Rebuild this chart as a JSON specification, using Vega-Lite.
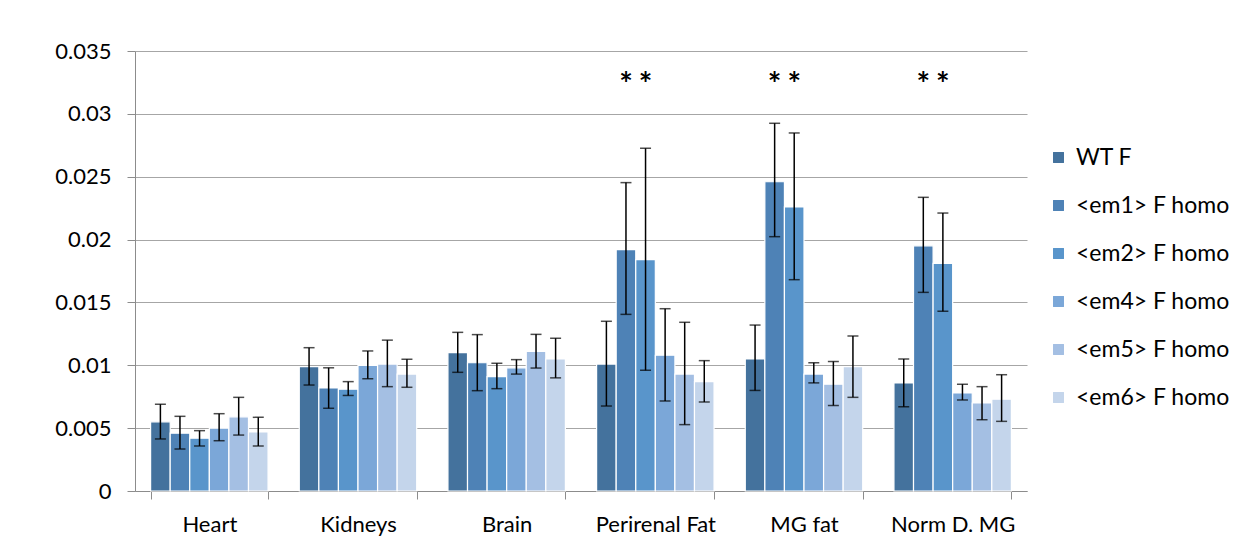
{
  "$schema": "https://vega.github.io/schema/vega-lite/v6.json",
  "autosize": {"type": "none"},
  "width": 892,
  "height": 440,
  "padding": {"left": 135, "top": 51, "right": 227, "bottom": 48},
  "background": "white",
  "config": {
    "font": "Lato",
    "view": {"stroke": null},
    "axis": {"labelFont": "Lato", "labelColor": "black", "labelFontSize": 22, "domainColor": "#8c8c8c", "tickColor": "#8c8c8c", "gridColor": "#a6a6a6"}
  },
  "datasets": {
    "bars": [
      {"organ": "Heart", "group": "WT F", "mean": 0.0055, "lo": 0.00414, "hi": 0.0069},
      {"organ": "Heart", "group": "<em1> F homo", "mean": 0.0046, "lo": 0.00334, "hi": 0.00594},
      {"organ": "Heart", "group": "<em2> F homo", "mean": 0.0042, "lo": 0.00358, "hi": 0.0048},
      {"organ": "Heart", "group": "<em4> F homo", "mean": 0.0050, "lo": 0.0040, "hi": 0.00615},
      {"organ": "Heart", "group": "<em5> F homo", "mean": 0.0059, "lo": 0.00445, "hi": 0.00745},
      {"organ": "Heart", "group": "<em6> F homo", "mean": 0.0047, "lo": 0.00358, "hi": 0.00586},
      {"organ": "Kidneys", "group": "WT F", "mean": 0.0099, "lo": 0.00843, "hi": 0.0114},
      {"organ": "Kidneys", "group": "<em1> F homo", "mean": 0.0082, "lo": 0.00658, "hi": 0.0098},
      {"organ": "Kidneys", "group": "<em2> F homo", "mean": 0.0081, "lo": 0.0076, "hi": 0.0087},
      {"organ": "Kidneys", "group": "<em4> F homo", "mean": 0.0100, "lo": 0.00893, "hi": 0.01114},
      {"organ": "Kidneys", "group": "<em5> F homo", "mean": 0.0101, "lo": 0.0083, "hi": 0.0120},
      {"organ": "Kidneys", "group": "<em6> F homo", "mean": 0.0093, "lo": 0.00825, "hi": 0.01048},
      {"organ": "Brain", "group": "WT F", "mean": 0.0110, "lo": 0.00944, "hi": 0.01262},
      {"organ": "Brain", "group": "<em1> F homo", "mean": 0.0102, "lo": 0.00798, "hi": 0.01244},
      {"organ": "Brain", "group": "<em2> F homo", "mean": 0.0091, "lo": 0.00814, "hi": 0.01016},
      {"organ": "Brain", "group": "<em4> F homo", "mean": 0.0098, "lo": 0.0093, "hi": 0.01045},
      {"organ": "Brain", "group": "<em5> F homo", "mean": 0.0111, "lo": 0.00978, "hi": 0.01246},
      {"organ": "Brain", "group": "<em6> F homo", "mean": 0.0105, "lo": 0.0090, "hi": 0.01215},
      {"organ": "Perirenal Fat", "group": "WT F", "mean": 0.0101, "lo": 0.00676, "hi": 0.0135},
      {"organ": "Perirenal Fat", "group": "<em1> F homo", "mean": 0.0192, "lo": 0.01405, "hi": 0.02453},
      {"organ": "Perirenal Fat", "group": "<em2> F homo", "mean": 0.0184, "lo": 0.0096, "hi": 0.02726},
      {"organ": "Perirenal Fat", "group": "<em4> F homo", "mean": 0.0108, "lo": 0.00716, "hi": 0.0145},
      {"organ": "Perirenal Fat", "group": "<em5> F homo", "mean": 0.0093, "lo": 0.00528, "hi": 0.01342},
      {"organ": "Perirenal Fat", "group": "<em6> F homo", "mean": 0.0087, "lo": 0.00708, "hi": 0.01037},
      {"organ": "MG fat", "group": "WT F", "mean": 0.0105, "lo": 0.0080, "hi": 0.0132},
      {"organ": "MG fat", "group": "<em1> F homo", "mean": 0.0246, "lo": 0.02023, "hi": 0.02925},
      {"organ": "MG fat", "group": "<em2> F homo", "mean": 0.0226, "lo": 0.01681, "hi": 0.02848},
      {"organ": "MG fat", "group": "<em4> F homo", "mean": 0.0093, "lo": 0.0086, "hi": 0.0102},
      {"organ": "MG fat", "group": "<em5> F homo", "mean": 0.0085, "lo": 0.0068, "hi": 0.0103},
      {"organ": "MG fat", "group": "<em6> F homo", "mean": 0.0099, "lo": 0.00745, "hi": 0.01233},
      {"organ": "Norm D. MG", "group": "WT F", "mean": 0.0086, "lo": 0.0067, "hi": 0.0105},
      {"organ": "Norm D. MG", "group": "<em1> F homo", "mean": 0.0195, "lo": 0.0158, "hi": 0.02336},
      {"organ": "Norm D. MG", "group": "<em2> F homo", "mean": 0.0181, "lo": 0.0143, "hi": 0.02211},
      {"organ": "Norm D. MG", "group": "<em4> F homo", "mean": 0.0078, "lo": 0.00724, "hi": 0.00849},
      {"organ": "Norm D. MG", "group": "<em5> F homo", "mean": 0.0070, "lo": 0.00567, "hi": 0.0083},
      {"organ": "Norm D. MG", "group": "<em6> F homo", "mean": 0.0073, "lo": 0.00554, "hi": 0.00925}
    ],
    "stars": [
      {"organ": "Perirenal Fat", "group": "<em1> F homo", "pos": 0.0322, "label": "*"},
      {"organ": "Perirenal Fat", "group": "<em2> F homo", "pos": 0.0322, "label": "*"},
      {"organ": "MG fat", "group": "<em1> F homo", "pos": 0.0322, "label": "*"},
      {"organ": "MG fat", "group": "<em2> F homo", "pos": 0.0322, "label": "*"},
      {"organ": "Norm D. MG", "group": "<em1> F homo", "pos": 0.0322, "label": "*"},
      {"organ": "Norm D. MG", "group": "<em2> F homo", "pos": 0.0322, "label": "*"}
    ]
  },
  "encoding": {
    "x": {
      "field": "organ", "type": "nominal",
      "sort": ["Heart", "Kidneys", "Brain", "Perirenal Fat", "MG fat", "Norm D. MG"],
      "scale": {"domain": ["Heart", "Kidneys", "Brain", "Perirenal Fat", "MG fat", "Norm D. MG"], "paddingInner": 0.21, "paddingOuter": 0.105},
      "axis": {"title": null, "labelAngle": 0, "tickBand": "extent", "tickSize": 8, "labelPadding": 15, "domainWidth": 1, "grid": false}
    },
    "xOffset": {
      "field": "group", "type": "nominal",
      "scale": {"domain": ["WT F", "<em1> F homo", "<em2> F homo", "<em4> F homo", "<em5> F homo", "<em6> F homo"], "paddingInner": 0, "paddingOuter": 0}
    }
  },
  "layer": [
    {
      "data": {"name": "bars"},
      "mark": {"type": "bar", "stroke": "white", "strokeWidth": 1.2},
      "encoding": {
        "y": {
          "field": "mean", "type": "quantitative",
          "scale": {"domain": [0, 0.035], "nice": false},
          "axis": {"title": null, "values": [0, 0.005, 0.01, 0.015, 0.02, 0.025, 0.03, 0.035], "format": ".3~f", "tickSize": 8, "labelPadding": 16, "grid": true, "gridWidth": 1.2}
        },
        "color": {
          "field": "group", "type": "nominal",
          "scale": {
            "domain": ["WT F", "<em1> F homo", "<em2> F homo", "<em4> F homo", "<em5> F homo", "<em6> F homo"],
            "range": ["#44729D", "#4E82B6", "#5995CB", "#7BA7D8", "#A4BFE3", "#C4D5EB"]
          },
          "legend": {
            "title": null, "orient": "none", "legendX": 912, "legendY": 95,
            "symbolType": "square", "symbolSize": 120, "symbolStrokeWidth": 0,
            "labelFontSize": 23, "labelFont": "Lato", "labelColor": "black",
            "rowPadding": 24, "labelOffset": 6, "labelLimit": 300
          }
        }
      }
    },
    {
      "data": {"name": "bars"},
      "mark": {"type": "rule", "color": "black", "strokeWidth": 1.5},
      "encoding": {
        "y": {"field": "lo", "type": "quantitative"},
        "y2": {"field": "hi"}
      }
    },
    {
      "data": {"name": "bars"},
      "mark": {"type": "tick", "color": "black", "orient": "horizontal", "size": 11, "thickness": 1.5},
      "encoding": {"y": {"field": "lo", "type": "quantitative"}}
    },
    {
      "data": {"name": "bars"},
      "mark": {"type": "tick", "color": "black", "orient": "horizontal", "size": 11, "thickness": 1.5},
      "encoding": {"y": {"field": "hi", "type": "quantitative"}}
    },
    {
      "data": {"name": "stars"},
      "mark": {"type": "text", "fontSize": 32, "font": "Lato", "fontWeight": "bold", "color": "black", "baseline": "middle"},
      "encoding": {
        "y": {"field": "pos", "type": "quantitative"},
        "text": {"field": "label"}
      }
    }
  ]
}
